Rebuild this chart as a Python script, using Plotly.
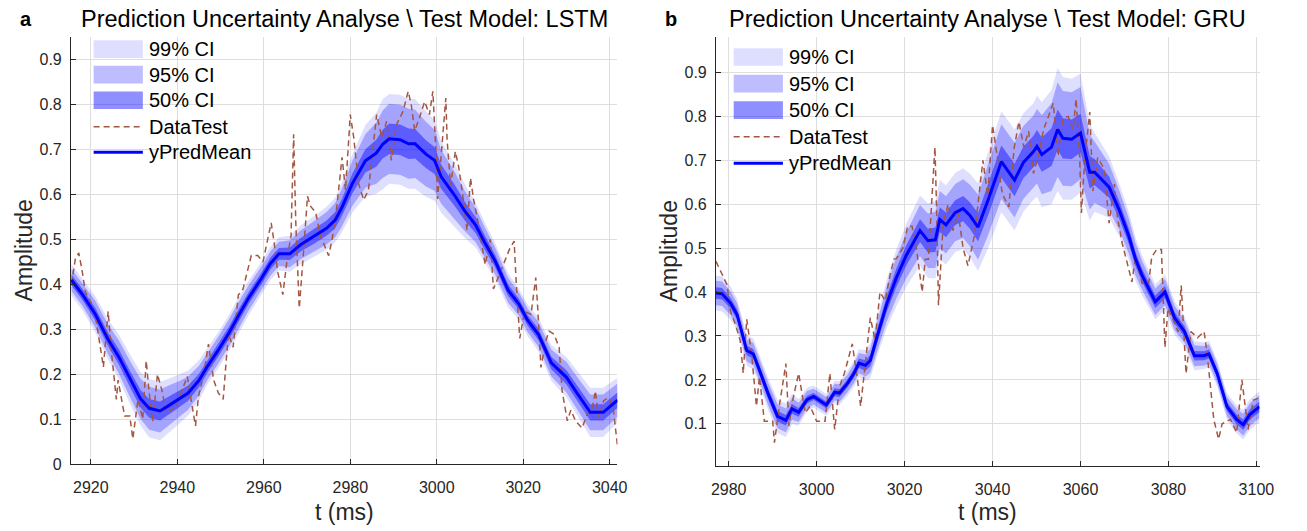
import plotly.graph_objects as go

W, H = 1307, 531

# ---------------- Panel a (LSTM) ----------------
ta_mean = [2915.5, 2918, 2921, 2924, 2926.5, 2929, 2931.5, 2933.5, 2936, 2938,
           2940.5, 2942.5, 2945, 2947, 2949.5, 2952, 2954, 2956.5, 2959.5, 2961.5,
           2963.5, 2966, 2968.5, 2971.5, 2974.5, 2976.5, 2978, 2980.5, 2983.5, 2986,
           2987.5, 2989, 2991.5, 2993.5, 2995, 2997.5, 2999.5, 3001, 3004, 3006.5,
           3009, 3011, 3013.5, 3016.5, 3019, 3021, 3023.5, 3026.5, 3030, 3032.5,
           3035.5, 3038.5, 3041.8]
va_mean = [0.41, 0.378, 0.334, 0.277, 0.238, 0.19, 0.145, 0.124, 0.118, 0.13,
           0.145, 0.158, 0.186, 0.218, 0.254, 0.293, 0.328, 0.37, 0.414, 0.446,
           0.468, 0.468, 0.488, 0.506, 0.525, 0.543, 0.57, 0.625, 0.675, 0.692,
           0.712, 0.724, 0.722, 0.713, 0.713, 0.69, 0.676, 0.64, 0.6, 0.563,
           0.532, 0.495, 0.452, 0.387, 0.356, 0.32, 0.289, 0.225, 0.193, 0.157,
           0.115, 0.115, 0.142]
va_hw99 = [0.035, 0.035, 0.04, 0.045, 0.05, 0.055, 0.06, 0.065, 0.065, 0.06,
           0.055, 0.05, 0.045, 0.04, 0.04, 0.04, 0.04, 0.038, 0.037, 0.037,
           0.037, 0.04, 0.043, 0.045, 0.048, 0.05, 0.055, 0.065, 0.08, 0.09,
           0.1, 0.1, 0.1, 0.1, 0.1, 0.095, 0.09, 0.08, 0.07, 0.06,
           0.05, 0.045, 0.04, 0.038, 0.035, 0.035, 0.038, 0.04, 0.045, 0.05,
           0.055, 0.055, 0.05]
va_hw95 = [0.025, 0.025, 0.03, 0.033, 0.037, 0.04, 0.045, 0.048, 0.048, 0.045,
           0.04, 0.037, 0.033, 0.03, 0.03, 0.03, 0.03, 0.028, 0.027, 0.027,
           0.027, 0.03, 0.032, 0.034, 0.036, 0.038, 0.042, 0.05, 0.06, 0.068,
           0.075, 0.078, 0.078, 0.078, 0.076, 0.072, 0.068, 0.06, 0.053, 0.045,
           0.038, 0.034, 0.03, 0.028, 0.026, 0.026, 0.028, 0.03, 0.034, 0.037,
           0.04, 0.04, 0.037]
va_hw50 = [0.012, 0.012, 0.014, 0.015, 0.017, 0.018, 0.02, 0.021, 0.021, 0.02,
           0.018, 0.017, 0.015, 0.014, 0.014, 0.014, 0.014, 0.013, 0.013, 0.013,
           0.013, 0.014, 0.015, 0.016, 0.017, 0.018, 0.019, 0.022, 0.026, 0.03,
           0.032, 0.034, 0.034, 0.034, 0.033, 0.031, 0.03, 0.027, 0.024, 0.021,
           0.018, 0.016, 0.014, 0.013, 0.012, 0.012, 0.013, 0.014, 0.016, 0.017,
           0.018, 0.018, 0.017]

ta_data = [2915.5, 2916.4, 2917.2, 2917.9, 2918.7, 2920, 2921, 2922.1, 2922.9, 2924,
           2924.8, 2925.9, 2926.3, 2927.8, 2929, 2929.7, 2930.9, 2932, 2932.8, 2933.5,
           2934.3, 2935.4, 2936.6, 2937.3, 2938.9, 2940, 2940.8, 2942.3, 2943.4, 2944.2,
           2944.9, 2946.1, 2947.2, 2948.4, 2949.5, 2950.6, 2951.8, 2952.9, 2954.1, 2955.2,
           2957.1, 2958.6, 2959.8, 2960.9, 2961.7, 2962.4, 2963.2, 2964.4, 2965.5, 2966.3,
           2966.9, 2967.4, 2968.2, 2969.3, 2970.1, 2970.8, 2972, 2973.1, 2974.3, 2975,
           2975.8, 2976.9, 2978.1, 2978.9, 2980, 2980.8, 2981.9, 2983.1, 2984.2, 2985,
           2986.1, 2987.3, 2988.4, 2989.5, 2990.7, 2992.2, 2993.4, 2994.1, 2994.9, 2996,
           2997.2, 2998.3, 2999.1, 2999.8, 3000.2, 3001.3, 3002.1, 3002.4, 3003.2, 3004.3,
           3005.1, 3006.2, 3007, 3007.8, 3008.5, 3009.7, 3011.2, 3012.4, 3013.1, 3014.2,
           3015.7, 3016.9, 3017.9, 3018.4, 3019.2, 3020.3, 3021.8, 3022.9, 3023.3, 3024.1,
           3025.2, 3026, 3027.1, 3028.3, 3029, 3030.2, 3031, 3032.1, 3033.6, 3034.8,
           3035.9, 3036.7, 3037.4, 3038.6, 3039.7, 3040.8, 3041.4, 3041.8]
va_data = [0.40, 0.456, 0.47, 0.435, 0.384, 0.36, 0.333, 0.26, 0.216, 0.34,
           0.245, 0.144, 0.187, 0.107, 0.107, 0.056, 0.144, 0.1, 0.23, 0.158,
           0.093, 0.2, 0.158, 0.115, 0.122, 0.136, 0.158, 0.195, 0.13, 0.085,
           0.151, 0.2, 0.267, 0.187, 0.158, 0.144, 0.29, 0.26, 0.376, 0.39,
           0.464, 0.464, 0.45, 0.5, 0.537, 0.493, 0.428, 0.377, 0.464, 0.508,
           0.734, 0.537, 0.347, 0.486, 0.596, 0.574, 0.56, 0.508, 0.48, 0.464,
           0.5, 0.574, 0.683, 0.61, 0.778, 0.727, 0.625, 0.588, 0.61, 0.683,
           0.778, 0.727, 0.763, 0.676, 0.756, 0.785, 0.83, 0.8, 0.742, 0.771,
           0.807, 0.778, 0.83, 0.698, 0.59, 0.72, 0.815, 0.72, 0.62, 0.696,
           0.66, 0.585, 0.52, 0.637, 0.59, 0.53, 0.444, 0.5, 0.39, 0.415,
           0.452, 0.48, 0.496, 0.4, 0.28, 0.34, 0.333, 0.415, 0.356, 0.215,
           0.274, 0.296, 0.289, 0.26, 0.163, 0.096, 0.12, 0.096, 0.08, 0.111,
           0.119, 0.163, 0.104, 0.141, 0.148, 0.126, 0.074, 0.04]

# ---------------- Panel b (GRU) ----------------
tb_mean = [2977.1, 2978.5, 2980.4, 2981.9, 2984.1, 2985.6, 2987.0, 2988.9, 2991.1, 2993.0,
           2994.4, 2995.9, 2997.8, 2999.3, 3002.2, 3004.1, 3005.2, 3007.0, 3008.5, 3009.6,
           3011.1, 3012.2, 3013.7, 3015.9, 3018.1, 3020.4, 3023.5, 3025.3, 3027.0, 3028.0,
           3029.4, 3031.5, 3033.3, 3034.8, 3036.7, 3039.0, 3042.0, 3045.0, 3047.0, 3049.3,
           3050.1, 3051.2, 3053.4, 3054.8, 3056.0, 3058.0, 3060.0, 3062.1, 3063.2, 3066.5,
           3068.8, 3071.0, 3072.5, 3074.0, 3077.0, 3079.2, 3081.4, 3083.6, 3085.9, 3088.1,
           3089.2, 3091.1, 3093.3, 3095.5, 3097.0, 3098.5, 3100.7]
vb_mean = [0.398, 0.396, 0.375, 0.349, 0.267, 0.259, 0.222, 0.170, 0.117, 0.108,
           0.134, 0.126, 0.155, 0.162, 0.143, 0.172, 0.170, 0.192, 0.215, 0.238,
           0.233, 0.244, 0.297, 0.372, 0.432, 0.484, 0.54, 0.517, 0.519, 0.565,
           0.553, 0.581, 0.59, 0.575, 0.548, 0.61, 0.697, 0.655, 0.695, 0.72,
           0.732, 0.713, 0.73, 0.77, 0.75, 0.748, 0.762, 0.673, 0.673, 0.639,
           0.587, 0.527, 0.475, 0.438, 0.378, 0.40, 0.341, 0.311, 0.255, 0.255,
           0.259, 0.214, 0.139, 0.110, 0.098, 0.121, 0.139]
vb_hw99 = [0.04, 0.04, 0.038, 0.036, 0.035, 0.035, 0.035, 0.036, 0.038, 0.038,
           0.035, 0.03, 0.027, 0.025, 0.025, 0.026, 0.027, 0.028, 0.03, 0.032,
           0.035, 0.04, 0.045, 0.055, 0.065, 0.072, 0.08, 0.085, 0.088, 0.09,
           0.09, 0.09, 0.092, 0.095, 0.1, 0.11, 0.115, 0.115, 0.112, 0.11,
           0.115, 0.12, 0.13, 0.14, 0.14, 0.138, 0.135, 0.11, 0.09, 0.07,
           0.06, 0.055, 0.05, 0.045, 0.04, 0.04, 0.038, 0.035, 0.033, 0.03,
           0.03, 0.03, 0.03, 0.032, 0.034, 0.035, 0.035]
vb_hw95 = [0.028, 0.028, 0.027, 0.026, 0.025, 0.025, 0.025, 0.026, 0.027, 0.027,
           0.025, 0.022, 0.02, 0.018, 0.018, 0.019, 0.02, 0.02, 0.022, 0.023,
           0.025, 0.028, 0.032, 0.04, 0.047, 0.052, 0.058, 0.062, 0.064, 0.065,
           0.065, 0.065, 0.067, 0.07, 0.074, 0.08, 0.085, 0.085, 0.083, 0.082,
           0.085, 0.09, 0.1, 0.108, 0.108, 0.107, 0.105, 0.085, 0.07, 0.053,
           0.045, 0.04, 0.037, 0.033, 0.03, 0.03, 0.028, 0.026, 0.024, 0.022,
           0.022, 0.022, 0.022, 0.023, 0.025, 0.026, 0.026]
vb_hw50 = [0.013, 0.013, 0.012, 0.012, 0.011, 0.011, 0.011, 0.012, 0.012, 0.012,
           0.011, 0.01, 0.009, 0.008, 0.008, 0.009, 0.009, 0.009, 0.01, 0.011,
           0.012, 0.013, 0.015, 0.018, 0.021, 0.023, 0.026, 0.027, 0.028, 0.028,
           0.028, 0.028, 0.029, 0.03, 0.032, 0.035, 0.037, 0.037, 0.036, 0.036,
           0.037, 0.039, 0.043, 0.046, 0.046, 0.045, 0.044, 0.037, 0.03, 0.024,
           0.02, 0.018, 0.016, 0.015, 0.014, 0.014, 0.013, 0.012, 0.011, 0.01,
           0.01, 0.01, 0.01, 0.011, 0.012, 0.012, 0.012]

tb_data = [2977.1, 2978.5, 2979.6, 2980.4, 2981.5, 2982.6, 2983.3, 2984.1, 2985.2, 2986.3,
           2987.0, 2988.1, 2990.0, 2990.4, 2991.5, 2993.0, 2993.7, 2994.4, 2995.9, 2997.4,
           2998.5, 3000.0, 3001.9, 3003.0, 3004.1, 3005.2, 3006.3, 3008.1, 3009.3, 3010.0,
           3011.1, 3012.2, 3013.3, 3014.4, 3015.6, 3016.7, 3017.6, 3018.1, 3019.6, 3020.7,
           3021.7, 3022.8, 3024.0, 3024.7, 3025.4, 3026.9, 3027.3, 3027.7, 3028.8, 3029.9,
           3031.0, 3032.2, 3033.3, 3034.4, 3035.9, 3037.8, 3038.9, 3040.0, 3041.1, 3042.2,
           3043.7, 3044.9, 3046.0, 3047.1, 3048.2, 3049.3, 3050.4, 3051.6, 3052.7, 3053.8,
           3054.9, 3056.0, 3057.2, 3058.3, 3059.0, 3059.8, 3060.2, 3061.0, 3062.1, 3062.8,
           3063.9, 3065.4, 3066.5, 3067.7, 3068.4, 3069.5, 3070.6, 3071.7, 3072.5, 3074.0,
           3075.5, 3076.2, 3077.3, 3078.4, 3079.2, 3079.9, 3082.2, 3082.9, 3084.0, 3085.1,
           3086.6, 3088.1, 3088.8, 3089.6, 3090.3, 3091.4, 3092.2, 3094.1, 3095.5, 3096.7,
           3097.4, 3098.1, 3099.3, 3100.4]
vb_data = [0.47, 0.44, 0.417, 0.357, 0.327, 0.29, 0.215, 0.338, 0.26, 0.14,
           0.207, 0.106, 0.106, 0.057, 0.14, 0.237, 0.095, 0.147, 0.215, 0.125,
           0.14, 0.106, 0.106, 0.215, 0.087, 0.185, 0.215, 0.282, 0.2, 0.14,
           0.244, 0.342, 0.29, 0.4, 0.38, 0.44, 0.475, 0.476, 0.5, 0.55,
           0.55, 0.49, 0.4, 0.475, 0.475, 0.73, 0.58, 0.37, 0.56, 0.6,
           0.54, 0.58, 0.5, 0.46, 0.53, 0.7, 0.62, 0.78, 0.706, 0.624,
           0.594, 0.728, 0.788, 0.73, 0.766, 0.67, 0.71, 0.77, 0.8, 0.83,
           0.71, 0.795, 0.8, 0.77, 0.84, 0.706, 0.58, 0.706, 0.81, 0.63,
           0.706, 0.68, 0.557, 0.646, 0.57, 0.51, 0.467, 0.423, 0.48, 0.42,
           0.42, 0.48, 0.497, 0.497, 0.274, 0.363, 0.31, 0.415, 0.214, 0.31,
           0.296, 0.31, 0.259, 0.184, 0.11, 0.065, 0.1, 0.11, 0.08, 0.2,
           0.147, 0.087, 0.154, 0.158]

x_ticks_a = [2920, 2940, 2960, 2980, 3000, 3020, 3040]
x_ticks_b = [2980, 3000, 3020, 3040, 3060, 3080, 3100]
y_ticks_a = [0, 0.1, 0.2, 0.3, 0.4, 0.5, 0.6, 0.7, 0.8, 0.9]
y_ticks_b = [0.1, 0.2, 0.3, 0.4, 0.5, 0.6, 0.7, 0.8, 0.9]
titles = ["Prediction Uncertainty Analyse \\ Test Model: LSTM",
          "Prediction Uncertainty Analyse \\ Test Model: GRU"]
legend_labels = ["99% CI", "95% CI", "50% CI", "DataTest", "yPredMean"]

C99 = "rgba(0,0,255,0.13)"
C95 = "rgba(0,0,255,0.26)"
C50 = "rgba(0,0,255,0.44)"
CDATA = "rgb(163,86,66)"
CMEAN = "rgb(0,0,255)"
FONT = "Liberation Sans, Arial, Helvetica, sans-serif"

fig = go.Figure()


def add_panel(t, m, hws, td, vd, xa, ya):
    for hw, col in zip(hws, [C99, C95, C50]):
        up = [a + b for a, b in zip(m, hw)]
        lo = [a - b for a, b in zip(m, hw)]
        fig.add_trace(go.Scatter(x=t + t[::-1], y=up + lo[::-1], fill="toself",
                                 fillcolor=col, line=dict(width=0), mode="lines",
                                 hoverinfo="skip", showlegend=False, xaxis=xa, yaxis=ya))
    fig.add_trace(go.Scatter(x=td, y=vd, mode="lines",
                             line=dict(color=CDATA, width=1.5, dash="6px,4px"),
                             showlegend=False, xaxis=xa, yaxis=ya))
    fig.add_trace(go.Scatter(x=t, y=m, mode="lines",
                             line=dict(color=CMEAN, width=3),
                             showlegend=False, xaxis=xa, yaxis=ya))


add_panel(ta_mean, va_mean, [va_hw99, va_hw95, va_hw50], ta_data, va_data, "x", "y")
add_panel(tb_mean, vb_mean, [vb_hw99, vb_hw95, vb_hw50], tb_data, vb_data, "x2", "y2")

# pixel-based panel boxes
pa = dict(l=67, r=622, t=38, b=472)
pb = dict(l=722, r=1274, t=38, b=474)


def px(x):
    return x / W


def py(y):
    return 1 - y / H


axis_common = dict(showgrid=True, gridcolor="#dedede", gridwidth=1, zeroline=False,
                   showline=True, linecolor="#262626", linewidth=1, ticks="inside",
                   ticklen=5, tickcolor="#262626", mirror=False,
                   tickfont=dict(family=FONT, size=16, color="#262626"))

fig.update_layout(
    width=W, height=H, margin=dict(l=0, r=0, t=0, b=0),
    paper_bgcolor="white", plot_bgcolor="white", showlegend=False,
    xaxis=dict(domain=[px(pa["l"]), px(pa["r"])], range=[2915.4, 3041.8],
               tickvals=x_ticks_a, anchor="y", ticklabelstandoff=9, **axis_common),
    yaxis=dict(domain=[py(pa["b"]), py(pa["t"])], range=[0, 0.95],
               tickvals=y_ticks_a, anchor="x", ticklabelstandoff=5, **axis_common),
    xaxis2=dict(domain=[px(pb["l"]), px(pb["r"])], range=[2977.1, 3100.7],
                tickvals=x_ticks_b, anchor="y2", ticklabelstandoff=9, **axis_common),
    yaxis2=dict(domain=[py(pb["b"]), py(pb["t"])], range=[0.004, 0.98],
                tickvals=y_ticks_b, anchor="x2", ticklabelstandoff=5, **axis_common),
)

annotations = []
shapes = []
for i, (box, lab) in enumerate([(pa, "a"), (pb, "b")]):
    cx = (box["l"] + box["r"]) / 2
    annotations.append(dict(x=px(cx), y=py(19), xref="paper", yref="paper", text=titles[i],
                            showarrow=False, xanchor="center", yanchor="middle",
                            font=dict(family=FONT, size=23.5, color="black")))
    annotations.append(dict(x=px(box["l"] - 54), y=py(19), xref="paper", yref="paper",
                            text="<b>" + lab + "</b>", showarrow=False, xanchor="left",
                            yanchor="middle", font=dict(family=FONT, size=20, color="black")))
    annotations.append(dict(x=px(cx), y=py(521), xref="paper", yref="paper", text="t (ms)",
                            showarrow=False, xanchor="center", yanchor="middle",
                            font=dict(family=FONT, size=23, color="#262626")))
    annotations.append(dict(x=px(box["l"] - 48), y=py((box["t"] + box["b"]) / 2), xref="paper",
                            yref="paper", text="Amplitude", textangle=-90, showarrow=False,
                            xanchor="center", yanchor="middle",
                            font=dict(family=FONT, size=23, color="#262626")))

# manual legends
leg_specs = [(90, [50, 76, 102, 129, 155]), (740, [58, 85, 112, 139, 166])]
for x0, rows in leg_specs:
    for j, (col, yy) in enumerate(zip([C99, C95, C50], rows[:3])):
        shapes.append(dict(type="rect", xref="paper", yref="paper", x0=px(x0), x1=px(x0 + 50),
                           y0=py(yy + 9), y1=py(yy - 9), fillcolor=col, line=dict(width=0)))
    shapes.append(dict(type="line", xref="paper", yref="paper", x0=px(x0), x1=px(x0 + 50),
                       y0=py(rows[3]), y1=py(rows[3]),
                       line=dict(color=CDATA, width=1.5, dash="6px,4px")))
    shapes.append(dict(type="line", xref="paper", yref="paper", x0=px(x0), x1=px(x0 + 50),
                       y0=py(rows[4]), y1=py(rows[4]), line=dict(color=CMEAN, width=3)))
    for lab, yy in zip(legend_labels, rows):
        annotations.append(dict(x=px(x0 + 54), y=py(yy), xref="paper", yref="paper", text=lab,
                                showarrow=False, xanchor="left", yanchor="middle",
                                font=dict(family=FONT, size=20, color="black")))

fig.update_layout(annotations=annotations, shapes=shapes)
fig.write_html("out.html")
